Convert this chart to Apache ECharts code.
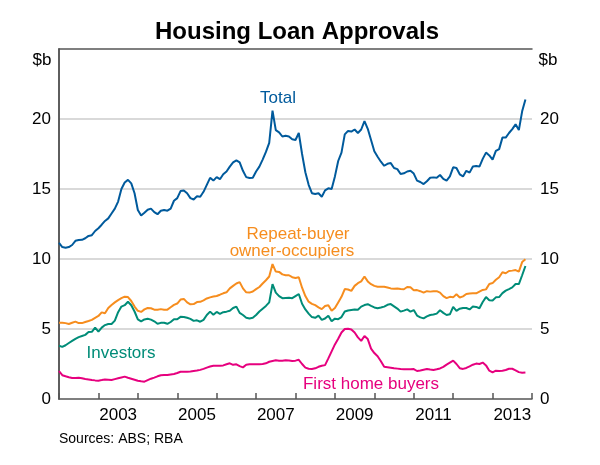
<!DOCTYPE html>
<html>
<head>
<meta charset="utf-8">
<script src="https://cdn.jsdelivr.net/npm/echarts@6/dist/echarts.min.js"></script>
<style>
  html, body {margin: 0; padding: 0; background: #fff;}
  #chart {width: 600px; height: 465px;}
</style>
</head>
<body>
<div id="chart"></div>
<script>
// monthly, starting Jan 2002 ($b)
const years = ['2002', '2003', '2004', '2005', '2006', '2007', '2008', '2009', '2010', '2011', '2012', '2013'];

const total = [
  11.16, 10.85, 10.8, 10.85, 11.0, 11.3, 11.36, 11.37, 11.48, 11.65, 11.7, 12.0,
  12.2, 12.45, 12.72, 12.9, 13.25, 13.6, 14.1, 15.0, 15.46, 15.65, 15.4, 14.7,
  13.5, 13.1, 13.3, 13.52, 13.6, 13.35, 13.2, 13.45, 13.5, 13.45, 13.6, 14.16,
  14.35, 14.85, 14.9, 14.7, 14.35, 14.25, 14.48, 14.45, 14.8, 15.3, 15.8, 15.6,
  15.85, 15.7, 16.05, 16.25, 16.6, 16.9, 17.05, 16.9, 16.3, 15.85, 15.78, 15.8,
  16.25, 16.6, 17.1, 17.65, 18.3, 20.6, 19.2, 19.05, 18.75, 18.8, 18.75, 18.55,
  18.5, 19.0, 17.5, 16.2, 15.3, 14.7, 14.65, 14.7, 14.45, 14.9, 15.05, 15.0,
  15.9, 17.0, 17.6, 18.9, 19.15, 19.1, 19.25, 19.0, 19.25, 19.85, 19.3, 18.5,
  17.7, 17.3, 16.95, 16.66, 16.8, 16.85, 16.5, 16.42, 16.07, 16.12, 16.25, 16.3,
  16.1, 15.6, 15.5, 15.35, 15.55, 15.8, 15.83, 15.8, 16.0, 15.72, 15.6, 15.9,
  16.55, 16.5, 16.05, 15.9, 16.3, 16.17, 16.6, 16.64, 16.6, 17.15, 17.6, 17.4,
  17.1, 17.72, 17.85, 18.67, 18.67, 19.0, 19.28, 19.62, 19.21, 20.55, 21.4
];

const repeatBuyers = [
  5.45, 5.45, 5.42, 5.36, 5.45, 5.53, 5.42, 5.42, 5.5, 5.57, 5.65, 5.8,
  5.93, 6.19, 6.12, 6.5, 6.72, 6.9, 7.06, 7.2, 7.31, 7.28, 7.0, 6.6,
  6.3, 6.22, 6.4, 6.5, 6.48, 6.38, 6.38, 6.42, 6.38, 6.38, 6.55, 6.72,
  6.82, 7.1, 7.15, 6.9, 6.76, 6.78, 6.92, 6.94, 7.05, 7.18, 7.26, 7.32,
  7.36, 7.45, 7.55, 7.62, 7.9, 8.08, 8.25, 8.35, 7.9, 7.62, 7.6, 7.68,
  7.85, 8.0, 8.25, 8.48, 8.75, 9.64, 9.1, 9.08, 8.9, 8.84, 8.84, 8.7,
  8.65, 8.7, 7.95, 7.35, 6.95, 6.8, 6.7, 6.55, 6.42, 6.64, 6.7, 6.3,
  6.5, 6.9, 7.3, 7.85, 7.82, 7.72, 8.08, 8.27, 8.4, 8.75, 8.4, 8.2,
  8.08, 8.02, 8.02, 8.02, 7.97, 7.9, 7.88, 7.9, 7.85, 7.84, 8.0, 7.98,
  7.77, 7.78, 7.7, 7.6, 7.7, 7.67, 7.7, 7.7, 7.6, 7.35, 7.2, 7.3,
  7.26, 7.48, 7.25, 7.33, 7.5, 7.54, 7.55, 7.55, 7.67, 7.79, 7.83, 8.22,
  8.28, 8.52, 8.7, 9.05, 8.98, 9.14, 9.17, 9.21, 9.1, 9.78, 9.98
];

const investors = [
  3.8, 3.72, 3.84, 4.0, 4.15, 4.3, 4.42, 4.5, 4.58, 4.78, 4.8, 5.1,
  4.82, 5.1, 5.28, 5.36, 5.36, 5.6, 6.2, 6.6, 6.7, 6.95, 6.7, 6.25,
  5.68, 5.54, 5.68, 5.73, 5.67, 5.55, 5.37, 5.44, 5.45, 5.37, 5.5, 5.7,
  5.7, 5.87, 5.86, 5.8, 5.72, 5.58, 5.62, 5.52, 5.65, 6.0, 6.24, 6.02,
  6.22, 6.08, 6.2, 6.24, 6.3, 6.5, 6.6, 6.15, 6.0, 5.81, 5.75, 5.8,
  6.0, 6.25, 6.45, 6.65, 6.9, 8.21, 7.6, 7.35, 7.2, 7.22, 7.24, 7.2,
  7.35, 7.5, 6.8, 6.4, 6.1, 5.85, 5.8, 5.95, 5.65, 5.75, 5.95, 5.55,
  5.74, 5.7, 5.85, 6.25, 6.32, 6.36, 6.4, 6.37, 6.6, 6.71, 6.77, 6.65,
  6.54, 6.48, 6.53, 6.6, 6.73, 6.78, 6.62, 6.46, 6.24, 6.31, 6.4, 6.24,
  6.35, 5.96, 5.83, 5.76, 5.9, 6.0, 6.03, 6.1, 6.34, 6.15, 6.0, 6.05,
  6.58, 6.3, 6.45, 6.5, 6.5, 6.4, 6.6, 6.58, 6.48, 6.93, 7.28, 7.06,
  7.03, 7.26, 7.28, 7.56, 7.74, 7.85, 7.97, 8.21, 8.21, 8.84, 9.5
];

const firstHome = [
  2.0, 1.7, 1.62, 1.55, 1.5, 1.5, 1.52, 1.48, 1.43, 1.4, 1.36, 1.33,
  1.31, 1.35, 1.4, 1.38, 1.36, 1.42, 1.48, 1.54, 1.6, 1.52, 1.45, 1.38,
  1.3, 1.26, 1.24, 1.35, 1.45, 1.53, 1.62, 1.7, 1.71, 1.71, 1.75, 1.79,
  1.86, 1.95, 1.95, 1.95, 1.97, 2.0, 2.03, 2.08, 2.15, 2.24, 2.32, 2.38,
  2.38, 2.38, 2.4, 2.48, 2.55, 2.44, 2.48, 2.35, 2.26, 2.45, 2.48, 2.48,
  2.48, 2.49, 2.5, 2.55, 2.66, 2.72, 2.76, 2.74, 2.73, 2.76, 2.75, 2.72,
  2.74, 2.8, 2.5, 2.24, 2.16, 2.14, 2.19, 2.3, 2.38, 2.42, 2.9, 3.4,
  3.9, 4.3, 4.75, 5.0, 5.02, 4.97, 4.75, 4.4, 4.15, 4.5, 4.28, 3.6,
  3.28, 3.05, 2.7, 2.3, 2.27, 2.24, 2.2, 2.17, 2.14, 2.12, 2.12, 2.13,
  2.14, 2.0, 2.04, 2.09, 2.14, 2.1, 2.07, 2.12, 2.18, 2.3, 2.46, 2.6,
  2.74, 2.5, 2.2, 2.15, 2.22, 2.33, 2.45, 2.53, 2.5, 2.6, 2.4, 2.02,
  1.9, 2.02, 2.0, 2.02, 2.07, 2.16, 2.16, 2.05, 1.92, 1.88, 1.9
];

const yTicks = [0, 5, 10, 15, 20, 25];

const FONT = '"Liberation Sans", Arial, sans-serif';
const AXIS = '#555555';
const GRIDLINE = '#cccccc';
const BLUE = '#005a9c';
const ORANGE = '#f68d1e';
const TEAL = '#008c78';
const PINK = '#e6007e';

const monthly = arr => arr.map((v, i) => [i, v]);

const chart = echarts.init(document.getElementById('chart'));

const line = (name, data, color) => ({
  name,
  type: 'line',
  xAxisIndex: 0,
  yAxisIndex: 0,
  data: monthly(data),
  showSymbol: false,
  silent: true,
  lineStyle: {color, width: 2},
  z: 3
});

const yAxisBase = pos => ({
  type: 'value',
  position: pos,
  min: yTicks[0],
  max: yTicks[yTicks.length - 1],
  interval: 5,
  axisLine: {show: true, lineStyle: {color: AXIS, width: 1.5}},
  axisTick: {show: false},
  axisLabel: {
    margin: 8,
    fontSize: 17,
    fontFamily: FONT,
    color: '#000',
    formatter: v => (v === 25 ? '' : String(v))
  }
});

chart.setOption({
  animation: false,
  grid: {left: 59, right: 68, top: 49, bottom: 66},
  xAxis: [
    {type: 'value', min: 0, max: 144, show: false},
    {
      type: 'category',
      data: years,
      position: 'bottom',
      boundaryGap: true,
      axisLine: {show: true, lineStyle: {color: AXIS, width: 1.5}},
      axisTick: {show: true, inside: true, length: 6, interval: 0, lineStyle: {color: AXIS, width: 1.5}},
      axisLabel: {
        interval: (index) => index % 2 === 1,
        margin: 8,
        fontSize: 17,
        fontFamily: FONT,
        color: '#000'
      },
      splitLine: {show: false}
    },
    {
      type: 'value',
      position: 'top',
      min: 0,
      max: 1,
      z: 5,
      axisLine: {show: true, lineStyle: {color: AXIS, width: 1.5}},
      axisTick: {show: false},
      axisLabel: {show: false},
      splitLine: {show: false}
    }
  ],
  yAxis: [
    Object.assign(yAxisBase('left'), {
      splitLine: {show: true, showMinLine: false, showMaxLine: false, lineStyle: {color: GRIDLINE, width: 1.5}}
    }),
    Object.assign(yAxisBase('right'), {splitLine: {show: false}})
  ],
  series: [
    line('Total', total, BLUE),
    line('Repeat-buyer owner-occupiers', repeatBuyers, ORANGE),
    line('Investors', investors, TEAL),
    line('First home buyers', firstHome, PINK)
  ],
  graphic: [
    {type: 'text', x: 297, y: 32, style: {text: 'Housing Loan Approvals', font: 'bold 24px ' + FONT, fill: '#000', textAlign: 'center', textVerticalAlign: 'middle'}},
    {type: 'text', x: 42, y: 60, style: {text: '$b', font: '17px ' + FONT, fill: '#000', textAlign: 'center', textVerticalAlign: 'middle'}},
    {type: 'text', x: 548, y: 60, style: {text: '$b', font: '17px ' + FONT, fill: '#000', textAlign: 'center', textVerticalAlign: 'middle'}},
    {type: 'text', x: 278, y: 98, style: {text: 'Total', font: '17px ' + FONT, fill: BLUE, textAlign: 'center', textVerticalAlign: 'middle'}},
    {type: 'text', x: 298, y: 234, style: {text: 'Repeat-buyer', font: '17px ' + FONT, fill: ORANGE, textAlign: 'center', textVerticalAlign: 'middle'}},
    {type: 'text', x: 292, y: 251, style: {text: 'owner-occupiers', font: '17px ' + FONT, fill: ORANGE, textAlign: 'center', textVerticalAlign: 'middle'}},
    {type: 'text', x: 121, y: 353, style: {text: 'Investors', font: '17px ' + FONT, fill: TEAL, textAlign: 'center', textVerticalAlign: 'middle'}},
    {type: 'text', x: 371, y: 384, style: {text: 'First home buyers', font: '17px ' + FONT, fill: PINK, textAlign: 'center', textVerticalAlign: 'middle'}},
    {type: 'text', x: 59, y: 439, style: {text: 'Sources: ABS; RBA', font: '14px ' + FONT, fill: '#000', textAlign: 'left', textVerticalAlign: 'middle'}}
  ]
});
</script>
</body>
</html>
